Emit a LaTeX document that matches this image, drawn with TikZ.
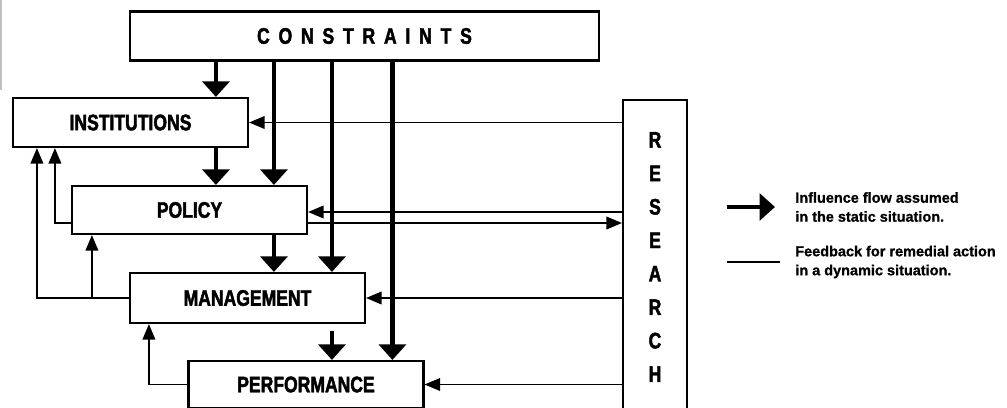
\documentclass[tikz,border=0pt]{standalone}
\usepackage{fontspec}
\newfontfamily\boxfont[FakeStretch=0.78,FakeBold=2]{Liberation Sans}
\newfontfamily\legfont[FakeBold=1]{Liberation Sans}
\usetikzlibrary{positioning,arrows.meta,calc}
\newcommand\lsp{\hspace{0.22cm}}

\begin{document}
\begin{tikzpicture}[x=0.025cm,y=-0.025cm]
\tikzset{blk/.style={draw,line width=1.5pt,inner sep=0pt,minimum width=5.875cm,minimum height=1.225cm,font=\boxfont\bfseries\fontsize{16}{19}\selectfont},
flow/.style={line width=3.2pt,-{Triangle[length=11pt,width=19pt]}},
fb/.style={line width=1pt,-{Triangle[length=11pt,width=9pt]}},
leg/.style={align=left,anchor=west,inner sep=0pt,font=\legfont\bfseries\fontsize{10.3}{13.5}\selectfont}}
\useasboundingbox (0,0) rectangle (1007,408);
\draw[gray!50,line width=1.2pt] (1,0) -- (1,90);

\node[blk,minimum width=11.725cm] (constraints) at (364.5,36) {C\lsp O\lsp N\lsp S\lsp T\lsp R\lsp A\lsp I\lsp N\lsp T\lsp S};
\node[blk] (inst) at (130.5,122.5) {INSTITUTIONS};
\node[blk,minimum height=1.2cm] (policy) at (189.5,210) {POLICY};
\node[blk,minimum height=1.25cm] (mgt) at (247.5,298) {MANAGEMENT};
\node[blk,minimum height=1.175cm] (perf) at (306,384.5) {PERFORMANCE};
\node[blk,minimum width=1.6cm,minimum height=7.85cm,align=center,font=\boxfont\bfseries\fontsize{16}{23.8}\selectfont] (research) at (655,257) {R\\E\\S\\E\\A\\R\\C\\H};

\coordinate (instIn) at ($(inst.north west)+(204,0)$);
\coordinate (polIn) at ($(policy.north west)+(203,0)$);
\coordinate (mgtIn) at ($(mgt.north west)+(203,0)$);
\coordinate (perfIn) at ($(perf.north west)+(205,0)$);

\draw[flow] (constraints.south -| instIn) -- (instIn);
\draw[flow] (constraints.south -| polIn) -- (polIn);
\draw[flow] (constraints.south -| mgtIn) -- (mgtIn);
\draw[flow] (constraints.south -| perfIn) -- (perfIn);
\draw[flow] (inst.south -| instIn) -- (policy.north -| instIn);
\draw[flow] (policy.south -| polIn) -- (mgt.north -| polIn);
\draw[flow,shorten <=5pt] (mgt.south -| mgtIn) -- (perf.north -| mgtIn);

\coordinate (polFrom) at ($(policy.east)+(0,2)$);
\coordinate (polTo) at ($(policy.east)+(0,13)$);
\draw[fb] (research.west |- inst.east) -- (inst.east);
\draw[fb] (research.west |- polFrom) -- (polFrom);
\draw[fb] (polTo) -- (research.west |- polTo);
\draw[fb] (research.west |- mgt.east) -- (mgt.east);
\draw[fb] (research.west |- perf.east) -- (perf.east);

\draw[fb] (policy.west |- polTo) -| ($(inst.south west)+(43,0)$);
\draw[fb] (mgt.west) -| ($(inst.south west)+(25,0)$);
\draw[fb] ($(mgt.west)+(-37,0)$) -- ($(policy.south west)+(21,0)$);
\draw[fb] (perf.west) -| ($(mgt.south west)+(20,0)$);

\coordinate (legA) at (727,207);
\coordinate (legB) at (775,207);
\coordinate (legC) at (727,262);
\coordinate (legD) at (780,262);
\draw[flow] (legA) -- (legB);
\draw[line width=1pt] (legC) -- (legD);
\node[leg] (legflow) at (795,207) {Influence flow assumed\\in the static situation.};
\node[leg] (legfb) at (795,262) {Feedback for remedial action\\in a dynamic situation.};
\end{tikzpicture}
\end{document}
